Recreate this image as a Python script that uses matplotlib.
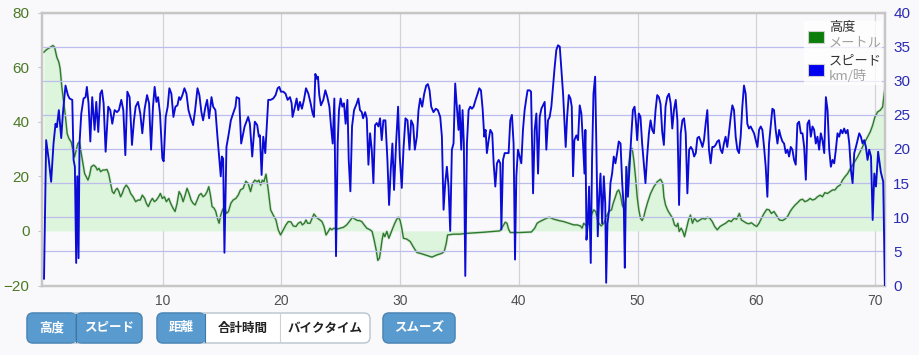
import matplotlib
matplotlib.use('Agg')
import matplotlib.pyplot as plt
from matplotlib.patches import FancyBboxPatch, Rectangle
from matplotlib.lines import Line2D

plt.rcParams['font.family'] = ['Noto Sans CJK JP', 'DejaVu Sans']

# ---------------- data ----------------
speed_km = [0.0, 0.18, 0.4, 0.6, 0.8, 0.97, 1.08, 1.25, 1.45, 1.59, 1.81, 2.01, 2.15, 2.38, 2.49, 2.6,
            2.71, 2.8, 2.91, 2.99, 3.14, 3.33, 3.5, 3.61, 3.75, 3.9, 4.06, 4.26, 4.4, 4.57, 4.74, 4.88,
            5.02, 5.19, 5.41, 5.58, 5.75, 5.95, 6.15, 6.31, 6.51, 6.68, 6.85, 7.02, 7.21, 7.41, 7.58,
            7.72, 7.92, 8.11, 8.28, 8.48, 8.68, 8.85, 9.02, 9.18, 9.32, 9.47, 9.61, 9.77, 9.97, 10.08,
            10.25, 10.42, 10.56, 10.73, 10.9, 11.07, 11.24, 11.38, 11.49, 11.66, 11.83, 12.0, 12.17,
            12.33, 12.56, 12.73, 12.93, 13.09, 13.26, 13.4, 13.6, 13.74, 13.91, 14.11, 14.25, 14.44,
            14.61, 14.75, 14.89, 14.98, 15.09, 15.2, 15.37, 15.57, 15.74, 15.93, 16.13, 16.22, 16.44,
            16.61, 16.9, 17.2, 17.34, 17.54, 17.76, 17.96, 18.1, 18.19, 18.33, 18.47, 18.64, 18.89,
            19.09, 19.31, 19.51, 19.68, 19.82, 19.96, 20.16, 20.35, 20.52, 20.72, 20.86, 20.94, 21.14,
            21.28, 21.42, 21.56, 21.73, 21.9, 22.07, 22.27, 22.46, 22.63, 22.74, 22.86, 22.97, 23.08,
            23.19, 23.33, 23.53, 23.7, 23.87, 24.04, 24.18, 24.32, 24.46, 24.6, 24.74, 24.85, 24.99,
            25.13, 25.27, 25.41, 25.56, 25.67, 25.81, 25.95, 26.12, 26.35, 26.48, 26.62, 26.77, 26.88,
            27.05, 27.19, 27.33, 27.47, 27.61, 27.75, 27.89, 28.03, 28.17, 28.31, 28.45, 28.59, 28.76,
            28.93, 29.07, 29.21, 29.35, 29.49, 29.66, 29.83, 29.97, 30.14, 30.28, 30.45, 30.62, 30.79,
            30.93, 31.1, 31.24, 31.41, 31.55, 31.69, 31.86, 32.03, 32.2, 32.34, 32.48, 32.62, 32.81,
            33.01, 33.18, 33.38, 33.52, 33.66, 33.8, 33.94, 34.08, 34.22, 34.36, 34.5, 34.64, 34.78,
            34.92, 35.01, 35.15, 35.26, 35.37, 35.49, 35.63, 35.77, 35.91, 36.05, 36.19, 36.36, 36.53,
            36.67, 36.81, 36.95, 37.09, 37.2, 37.31, 37.46, 37.6, 37.76, 37.88, 38.02, 38.16, 38.3,
            38.44, 38.53, 38.67, 38.81, 39.0, 39.14, 39.28, 39.42, 39.56, 39.68, 39.79, 39.93, 40.07,
            40.21, 40.35, 40.49, 40.63, 40.74, 40.91, 41.03, 41.2, 41.34, 41.48, 41.62, 41.76, 41.9,
            42.04, 42.18, 42.32, 42.46, 42.6, 42.74, 42.88, 43.02, 43.16, 43.3, 43.45, 43.59, 43.73,
            43.87, 43.95, 44.07, 44.21, 44.35, 44.46, 44.57, 44.68, 44.85, 44.99, 45.13, 45.27, 45.41,
            45.53, 45.61, 45.7, 45.81, 45.92, 46.06, 46.17, 46.29, 46.43, 46.54, 46.65, 46.77, 46.88,
            47.02, 47.16, 47.28, 47.36, 47.47, 47.61, 47.72, 47.86, 48.0, 48.14, 48.28, 48.42, 48.57,
            48.71, 48.85, 48.93, 49.05, 49.19, 49.33, 49.47, 49.61, 49.75, 49.86, 49.97, 50.11, 50.25,
            50.39, 50.53, 50.67, 50.81, 50.96, 51.1, 51.24, 51.38, 51.52, 51.66, 51.8, 51.94, 52.08,
            52.22, 52.36, 52.5, 52.65, 52.79, 52.93, 53.07, 53.22, 53.36, 53.5, 53.64, 53.78, 53.92,
            54.06, 54.2, 54.35, 54.49, 54.63, 54.77, 54.91, 55.04, 55.18, 55.33, 55.47, 55.6, 55.74,
            55.88, 56.02, 56.16, 56.3, 56.44, 56.58, 56.72, 56.86, 57.0, 57.14, 57.28, 57.42, 57.56,
            57.7, 57.85, 57.99, 58.13, 58.27, 58.41, 58.55, 58.69, 58.83, 58.97, 59.11, 59.25, 59.39,
            59.53, 59.67, 59.82, 59.96, 60.1, 60.24, 60.38, 60.52, 60.66, 60.8, 60.94, 61.08, 61.22,
            61.36, 61.5, 61.64, 61.79, 61.93, 62.07, 62.21, 62.35, 62.49, 62.63, 62.77, 62.91, 63.05,
            63.19, 63.33, 63.47, 63.61, 63.76, 63.9, 64.04, 64.18, 64.32, 64.46, 64.6, 64.74, 64.88,
            65.02, 65.16, 65.3, 65.44, 65.58, 65.73, 65.87, 66.01, 66.15, 66.29, 66.43, 66.57, 66.71,
            66.85, 66.99, 67.13, 67.27, 67.41, 67.55, 67.7, 67.84, 67.98, 68.12, 68.26, 68.4, 68.54,
            68.68, 68.82, 68.96, 69.1, 69.24, 69.38, 69.52, 69.67, 69.81, 69.95, 70.09, 70.27, 70.5,
            70.7, 70.84]
speed_kmh = [1.0, 21.3, 18.4, 15.2, 20.8, 23.7, 23.2, 25.7, 21.6, 25.2, 29.3, 27.9, 27.4, 27.2, 18.4, 17.4,
             3.3, 16.0, 4.0, 20.8, 25.2, 27.4, 27.6, 29.1, 26.7, 21.1, 27.6, 22.8, 26.9, 22.5, 28.1, 28.6,
             26.7, 19.6, 26.2, 25.7, 23.7, 25.7, 25.4, 25.7, 27.2, 25.7, 19.1, 28.4, 27.6, 20.6, 24.2,
             26.2, 26.9, 25.2, 22.3, 25.9, 27.9, 26.7, 19.9, 26.2, 29.1, 26.9, 27.6, 25.2, 18.6, 18.2,
             24.7, 26.2, 28.9, 28.1, 24.7, 26.2, 26.4, 27.6, 27.2, 27.9, 28.9, 28.1, 25.7,
             24.7, 23.5, 25.7, 28.9, 27.9, 25.4, 24.2, 26.2, 27.2, 24.5, 27.6, 26.2, 25.7,
             21.8, 18.9, 16.0, 18.9, 18.6, 4.8, 20.3, 22.3, 24.2, 25.2, 26.2, 27.6, 27.4,
             20.8, 23.3, 24.7, 23.7, 18.9, 24.0, 23.5, 21.8, 22.0, 16.2, 21.8, 19.4, 27.2,
             27.2, 27.4, 27.9, 28.9, 29.1, 28.4, 28.4, 28.1, 27.2, 27.6, 26.7, 24.7, 26.2,
             27.4, 25.7, 26.9, 25.9, 27.2, 28.9, 28.1, 26.7, 25.2, 24.7, 31.0, 30.3, 30.6,
             27.9, 26.4, 27.2, 28.6, 27.6, 26.2, 23.3, 20.8, 27.4, 4.3, 20.8, 25.7, 27.4,
             26.2, 26.7, 23.7, 27.2, 18.4, 13.8, 23.3, 25.7, 26.7, 27.4, 25.7, 25.4, 24.5,
             25.4, 24.5, 17.7, 22.3, 19.9, 15.0, 23.5, 23.8, 23.3, 24.5, 21.3, 24.2, 24.2,
             18.4, 11.8, 16.9, 20.8, 14.0, 20.8, 26.2, 18.9, 14.3, 19.9, 24.5, 24.2, 19.9,
             24.2, 23.5, 19.9, 21.8, 25.7, 27.4, 26.2, 28.1, 29.3, 29.5, 28.6, 26.2, 25.4,
             25.9, 25.7, 24.7, 21.8, 11.1, 15.0, 17.4, 14.5, 8.0, 19.9, 20.8, 29.6, 26.2,
             22.8, 26.4, 19.9, 25.7, 20.8, 1.4, 20.8, 25.7, 26.2, 25.9, 26.2, 27.2, 28.1,
             28.9, 28.6, 25.9, 21.8, 22.8, 19.4, 21.3, 22.8, 22.3, 17.9, 14.5, 17.9, 18.4,
             17.9, 8.2, 18.4, 19.4, 19.4, 19.4, 24.2, 25.0, 20.8, 3.8, 16.0, 19.9, 18.9,
             17.9, 22.8, 25.7, 27.4, 28.6, 28.6, 28.4, 13.5, 22.8, 25.2, 16.4, 24.7, 25.9,
             26.4, 26.9, 19.9, 24.2, 24.7, 26.2, 29.1, 32.0, 34.5, 35.2, 35.0, 31.5, 28.1,
             23.3, 20.3, 24.7, 27.9, 27.4, 26.2, 16.0, 21.3, 22.0, 21.3, 26.4, 25.2, 20.8,
             16.4, 22.8, 6.7, 9.1, 14.5, 3.3, 18.4, 28.1, 30.6, 19.9, 7.2, 13.0, 16.4,
             9.1, 16.0, 12.1, 0.4, 9.1, 11.1, 15.0, 16.4, 18.9, 17.9, 19.4, 21.1, 20.8,
             15.0, 11.1, 2.6, 17.4, 13.0, 17.4, 21.8, 25.7, 26.2, 24.2, 21.3, 25.2, 24.7,
             20.8, 17.9, 15.0, 18.9, 22.3, 24.2, 22.8, 22.3, 25.7, 27.9, 27.6, 26.6, 22.5,
             20.6, 26.2, 27.6, 28.1, 26.7, 23.0, 25.7, 27.2, 24.2, 11.8, 22.3, 24.2, 24.5,
             22.3, 13.5, 19.9, 20.3, 19.9, 18.9, 19.4, 21.6, 21.8, 21.1, 20.3, 21.3, 23.7,
             25.7, 19.9, 17.9, 20.3, 20.3, 20.6, 21.1, 21.3, 19.9, 19.4, 20.8, 21.8, 20.3,
             22.3, 24.7, 26.4, 25.7, 21.8, 19.9, 19.4, 21.8, 26.2, 29.3, 28.1, 23.7, 23.0,
             23.3, 22.8, 22.3, 21.3, 20.3, 22.8, 23.3, 22.8, 20.3, 17.4, 13.0, 20.8, 23.3,
             25.9, 25.7, 22.8, 20.8, 22.8, 21.8, 21.1, 20.8, 19.4, 19.9, 18.9, 20.3, 19.9,
             18.4, 17.7, 23.7, 24.0, 22.3, 22.3, 20.3, 15.5, 23.7, 24.2, 21.8, 23.3, 22.8,
             20.8, 21.8, 19.9, 22.3, 21.3, 19.4, 27.6, 25.7, 19.9, 17.4, 18.4, 17.9, 19.9,
             22.3, 21.8, 22.8, 22.3, 23.0, 22.3, 22.8, 20.8, 16.9, 15.0, 19.4, 20.3, 21.3,
             22.3, 21.8, 20.8, 21.3, 20.3, 18.4, 19.9, 18.9, 9.6, 16.4, 14.5, 19.6, 16.6,
             15.2, 0.0]

alt_km = [0.0, 0.18, 0.46, 0.75, 0.89, 1.08, 1.25, 1.36, 1.5, 1.64, 1.81, 1.95, 2.1, 2.29, 2.43, 2.57,
          2.71, 2.85, 2.99, 3.14, 3.28, 3.42, 3.56, 3.7, 3.84, 3.98, 4.18, 4.35, 4.49, 4.63, 4.77, 4.96,
          5.13, 5.3, 5.44, 5.58, 5.75, 5.89, 6.03, 6.17, 6.31, 6.45, 6.59, 6.74, 6.93, 7.13, 7.3, 7.5,
          7.72, 7.92, 8.11, 8.28, 8.48, 8.62, 8.79, 8.96, 9.13, 9.3, 9.47, 9.66, 9.8, 9.97, 10.14,
          10.31, 10.51, 10.67, 10.87, 11.04, 11.21, 11.38, 11.55, 11.72, 11.89, 12.05, 12.22, 12.39,
          12.56, 12.73, 12.9, 13.07, 13.23, 13.4, 13.57, 13.74, 13.88, 14.02, 14.16, 14.33, 14.47,
          14.61, 14.75, 14.89, 15.04, 15.2, 15.37, 15.54, 15.74, 15.93, 16.16, 16.36, 16.55, 16.78,
          17.0, 17.2, 17.4, 17.57, 17.76, 17.96, 18.1, 18.25, 18.39, 18.53, 18.7, 18.89, 19.09, 19.31,
          19.54, 19.73, 19.93, 20.16, 20.38, 20.58, 20.8, 21.0, 21.22, 21.42, 21.62, 21.76, 21.93,
          22.07, 22.21, 22.41, 22.58, 22.74, 22.91, 23.05, 23.25, 23.42, 23.59, 23.76, 23.95, 24.1,
          24.24, 24.43, 24.66, 24.94, 25.22, 25.5, 25.78, 26.0, 26.2, 26.4, 26.57, 26.77, 26.97,
          27.19, 27.47, 27.64, 27.81, 27.98, 28.12, 28.26, 28.37, 28.48, 28.59, 28.71, 28.88, 29.05,
          29.21, 29.38, 29.55, 29.72, 29.86, 30.0, 30.14, 30.28, 30.56, 30.85, 31.13, 31.41, 31.83,
          32.25, 32.68, 33.1, 33.52, 33.72, 33.89, 34.0, 34.5, 35.0, 35.6, 37.0, 38.4, 38.67, 38.86,
          39.0, 39.14, 39.28, 40.07, 41.06, 41.34, 41.54, 41.76, 42.04, 42.32, 42.57, 42.94, 43.36,
          43.79, 44.21, 44.63, 44.91, 45.19, 45.33, 45.47, 45.61, 45.75, 45.98, 46.17, 46.31, 46.48,
          46.6, 46.74, 46.94, 47.16, 47.39, 47.58, 47.81, 47.95, 48.14, 48.28, 48.42, 48.57, 48.71,
          48.85, 48.99, 49.13, 49.27, 49.41, 49.55, 49.69, 49.83, 49.97, 50.11, 50.25, 50.39, 50.53,
          50.67, 50.87, 51.1, 51.38, 51.66, 51.94, 52.13, 52.22, 52.36, 52.56, 52.79, 52.96, 53.12,
          53.29, 53.4, 53.51, 53.68, 53.82, 53.96, 54.13, 54.3, 54.46, 54.63, 54.8, 55.03, 55.26,
          55.48, 55.71, 55.88, 56.1, 56.3, 56.5, 56.72, 56.95, 57.17, 57.42, 57.7, 57.9, 58.13,
          58.35, 58.58, 58.75, 58.97, 59.2, 59.39, 59.59, 59.82, 60.04, 60.24, 60.44, 60.66, 60.89,
          61.09, 61.28, 61.5, 61.73, 61.96, 62.21, 62.41, 62.63, 62.86, 63.05, 63.28, 63.48, 63.7,
          63.9, 64.1, 64.32, 64.54, 64.74, 64.94, 65.16, 65.39, 65.58, 65.78, 66.0, 66.23, 66.43,
          66.63, 66.85, 67.07, 67.27, 67.47, 67.7, 67.86, 68.03, 68.2, 68.37, 68.54, 68.76, 68.96,
          69.16, 69.38, 69.61, 69.81, 70.0, 70.23, 70.45, 70.65, 70.84]
alt_m = [65.5, 66.3, 67.1, 67.9, 67.3, 63.6, 61.8, 59.4, 52.7, 47.8, 41.7, 35.6, 33.8, 32.6, 29.6, 27.1,
         29.6, 32.0, 32.6, 28.3, 24.7, 21.0, 19.8, 18.6, 20.4, 23.5, 24.1, 23.5, 22.3, 22.9, 21.7, 22.3,
         22.3, 22.5, 21.0, 18.0, 14.4, 13.7, 15.0, 15.6, 14.4, 12.5, 13.7, 15.6, 16.8, 15.6, 13.7, 12.5,
         10.7, 11.3, 11.3, 13.1, 11.9, 10.1, 8.9, 10.7, 11.9, 10.7, 11.3, 12.5, 13.7, 11.9, 12.5,
         10.7, 11.9, 10.1, 8.3, 7.1, 10.1, 14.4, 13.1, 10.7, 13.1, 15.6, 13.7, 11.3,
         10.1, 9.5, 11.3, 13.1, 13.7, 12.5, 13.1, 14.4, 16.2, 13.1, 8.9, 8.3, 7.1,
         4.6, 2.8, 5.8, 7.7, 8.9, 6.4, 7.1, 10.1, 11.3, 11.9, 13.1, 15.0, 15.6,
         18.2, 17.4, 14.4, 17.4, 18.6, 18.0, 18.6, 16.8, 18.6, 18.0, 20.8, 15.0, 7.7, 5.8,
         4.0, 0.4, -1.5, 0.4, 2.2, 3.4, 3.3, 1.8, 1.6, 2.8, 3.3, 2.2, 2.8,
         4.0, 2.8, 2.8, 4.6, 6.2, 5.2, 4.6, 4.0, 3.4, 1.6, -1.5, -0.2, 1.0,
         0.4, 1.0, 0.6, 1.0, 1.3, 2.2, 3.8, 5.0, 4.3, 3.8, 3.8, 3.4, 2.2,
         1.0, 0.4, -0.2, -3.3, -6.9, -10.8, -10.0, -6.9, -3.3, -0.9, -2.1, -0.2, -2.7,
         -0.9, 1.0, 2.8, 4.3, 5.0, 3.8, 1.0, -2.7, -3.0, -3.9, -6.0, -7.9, -8.4,
         -9.0, -9.6, -8.8, -8.2, -7.5, -4.5, -1.5, -1.2, -1.2, -0.9, -0.5, 0.0, 1.8, 3.2,
         2.8, 0.6, -0.6, -0.6, -0.4, 1.0, 2.8, 3.4, 4.0, 4.6, 5.0, 4.3, 3.8,
         3.4, 2.8, 2.2, 2.2, 1.8, 1.0, 2.8, 2.2, 1.6, 4.0, 6.4, 7.7, 7.1,
         4.6, 2.8, 1.8, 2.8, 5.2, 7.1, 7.7, 10.1, 12.5, 14.4, 15.0, 13.1, 9.5,
         8.3, 11.3, 17.4, 24.7, 29.6, 30.2, 25.9, 19.8, 12.5, 7.7, 4.6, 3.8, 5.2,
         7.7, 10.7, 13.7, 16.2, 18.0, 18.9, 17.4, 12.5, 9.5, 7.4, 5.8, 4.6, 2.2,
         1.6, 2.8, -0.2, 1.0, -0.2, -2.1, 1.0, 4.0, 5.8, 2.8, 4.6, 3.4, 4.0,
         4.6, 4.3, 5.0, 4.6, 3.4, 1.6, 0.4, 1.6, 2.2, 2.8, 3.8, 3.4, 4.6,
         4.3, 6.4, 4.0, 3.4, 2.8, 2.6, 3.0, 2.2, 1.6, 2.8, 4.6, 6.4, 7.9,
         7.7, 6.4, 7.1, 5.5, 4.0, 3.8, 4.3, 5.2, 7.1, 8.3, 9.5, 10.3, 11.3,
         11.6, 10.7, 11.1, 11.9, 11.3, 11.6, 12.5, 13.1, 12.5, 14.0, 13.7, 14.4, 15.0,
         15.0, 16.2, 16.8, 18.6, 19.8, 21.0, 22.3, 23.5, 24.7, 25.9, 27.1, 29.0, 30.8,
         32.6, 34.4, 36.3, 38.7, 41.7, 43.6, 44.2, 45.4, 52.2]

x_ticks = [10, 20, 30, 40, 50, 60, 70]
alt_ticks = [-20, 0, 20, 40, 60, 80]
speed_ticks = [0, 5, 10, 15, 20, 25, 30, 35, 40]
legend_items = [('高度', 'メートル'), ('スピード', 'km/時')]
button_groups = [['高度', 'スピード'], ['距離', '合計時間', 'バイクタイム'], ['スムーズ']]
button_active = [[True, True], [True, False, False], [True]]

# ---------------- styling ----------------
W, H = 919, 355
BG = '#f9f9fb'
fig = plt.figure(figsize=(W / 100, H / 100), dpi=100, facecolor=BG)


def fx(px):
    return px / W


def fy(py):
    return 1 - py / H


ax = fig.add_axes([fx(42), fy(285.5), (885 - 42) / W, (285.5 - 12.5) / H])
ax.set_facecolor(BG)
ax.set_xlim(-0.17, 70.85)
ax.set_ylim(alt_ticks[0], alt_ticks[-1])
ax2 = ax.twinx()
ax2.set_ylim(speed_ticks[0], speed_ticks[-1])

# altitude
ax.fill_between(alt_km, alt_m, 0, color='#dcf5dc', lw=0, zorder=1)
ax.plot(alt_km, alt_m, color='#c8dcc8', lw=2.2, zorder=2, alpha=0.6)
ax.plot(alt_km, alt_m, color='#2c7a2c', lw=1.0, zorder=3)

# speed
ax2.plot(speed_km, speed_kmh, color='#0b0bd6', lw=1.35, zorder=5, solid_joinstyle='round')

# grid
ax.set_xticks(x_ticks)
ax.grid(axis='x', color='#d2d2da', lw=0.9)
ax.set_yticks(alt_ticks)
ax.set_axisbelow(True)
ax2.set_yticks(speed_ticks)
ax2.grid(axis='y', color='#bdbdec', lw=0.9, zorder=0)
ax2.set_axisbelow(True)

for a in (ax, ax2):
    for s in a.spines.values():
        s.set_color('#c6c6c6')
        s.set_linewidth(1.6)

TICKFONT = 'Liberation Sans'
ax.tick_params(axis='x', length=0, pad=6, labelsize=10, labelcolor='#505050')
ax.tick_params(axis='y', length=3, width=0.8, color='#c6c6c6', pad=6, labelsize=11,
               labelcolor='#4b7a25')
ax2.tick_params(axis='y', length=0, pad=6, labelsize=11, labelcolor='#2b2bb4')
for lab in ax.get_xticklabels() + ax.get_yticklabels() + ax2.get_yticklabels():
    lab.set_fontfamily(TICKFONT)

# legend
fig.patches.append(Rectangle((fx(804), fy(85)), 78 / W, 64 / H, transform=fig.transFigure,
                             facecolor='white', alpha=0.75, edgecolor='none'))
leg_colors = ['#0a7d0a', '#0000f0']
leg_y = [37, 70]
for (name, unit), col, yy in zip(legend_items, leg_colors, leg_y):
    fig.patches.append(Rectangle((fx(808), fy(yy + 6)), 16 / W, 12 / H, transform=fig.transFigure,
                                 facecolor=col, edgecolor='#cfcfcf', lw=0.8))
    fig.text(fx(829), fy(yy - 9), name, fontsize=9.5, color='#333333', va='center', ha='left')
    fig.text(fx(829), fy(yy + 6), unit, fontsize=9.5, color='#a0a0a0', va='center', ha='left')

# buttons
group_x = [(27, 142), (157, 370), (383, 455)]
split_x = [[27, 76, 142], [157, 205, 280, 370], [383, 455]]
by0, by1 = 313, 343
BLUE = '#5a9bcf'
RS = 6 / W
for g, (x0, x1) in enumerate(group_x):
    fig.patches.append(FancyBboxPatch((fx(x0), fy(by1)), (x1 - x0) / W, (by1 - by0) / H,
                                      boxstyle='round,pad=0,rounding_size=%f' % RS,
                                      mutation_aspect=W / H,
                                      transform=fig.transFigure,
                                      facecolor='white', edgecolor='#b8c4cc', lw=1.0))
    xs = split_x[g]
    n = len(button_groups[g])
    for i, (lab, act) in enumerate(zip(button_groups[g], button_active[g])):
        a0, a1 = xs[i], xs[i + 1]
        if act:
            fig.patches.append(FancyBboxPatch((fx(a0), fy(by1)), (a1 - a0) / W, (by1 - by0) / H,
                                              boxstyle='round,pad=0,rounding_size=%f' % RS,
                                              mutation_aspect=W / H,
                                              transform=fig.transFigure,
                                              facecolor=BLUE, edgecolor='#4a86b8', lw=1.0))
            if i > 0:
                fig.patches.append(Rectangle((fx(a0), fy(by1) + 0.6 / H), 8 / W, (by1 - by0 - 1.2) / H,
                                             transform=fig.transFigure, facecolor=BLUE,
                                             edgecolor='none'))
            if i < n - 1:
                fig.patches.append(Rectangle((fx(a1 - 8), fy(by1) + 0.6 / H), 8 / W,
                                             (by1 - by0 - 1.2) / H,
                                             transform=fig.transFigure, facecolor=BLUE,
                                             edgecolor='none'))
        tc = 'white' if act else '#222222'
        fig.text(fx((a0 + a1) / 2), fy(328), lab, fontsize=9, color=tc, fontweight='bold',
                 ha='center', va='center')
        if i > 0:
            fig.lines.append(Line2D([fx(a0), fx(a0)], [fy(by0 + 1), fy(by1 - 1)],
                                    transform=fig.transFigure,
                                    color='#3f78a8' if act or button_active[g][i - 1] else '#d0d0d0',
                                    lw=0.8))

fig.savefig('out.png', dpi=100, facecolor=BG)
